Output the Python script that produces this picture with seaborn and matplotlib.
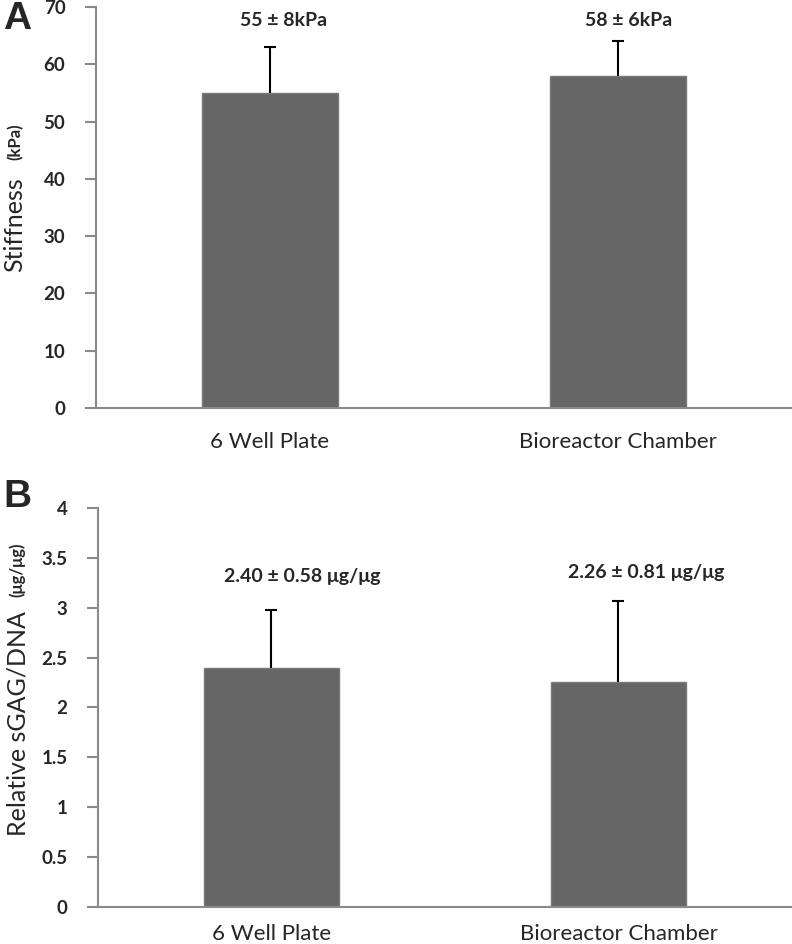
import matplotlib
matplotlib.use("Agg")
import matplotlib.pyplot as plt
import matplotlib.ticker as mticker
import seaborn as sns
import pandas as pd

# data
groups = ["6 Well Plate", "Bioreactor Chamber"]
stiffness = [55, 58]
stiffness_err = [8, 6]
stiffness_labels = ["55 ± 8kPa", "58 ± 6kPa"]
sgag = [2.40, 2.26]
sgag_err = [0.58, 0.81]
sgag_labels = ["2.40 ± 0.58 μg/μg", "2.26 ± 0.81 μg/μg"]

sns.set_theme(style="white")
plt.rcParams['font.family'] = ['Lato', 'DejaVu Sans']

bar_color = "#666666"
spine_color = "#8a8a8a"

fig = plt.figure(figsize=(7.92, 9.44), dpi=100)
ax_a = fig.add_axes([0.1212, 0.5678, 0.8788, 0.4248])
ax_b = fig.add_axes([0.1237, 0.0392, 0.8763, 0.4227])


def draw_panel(ax, values, errs, labels, ymax, ystep, label_pos, xpad):
    df = pd.DataFrame({"group": groups, "value": values})
    sns.barplot(data=df, x="group", y="value", ax=ax, color=bar_color,
                width=0.39, edgecolor="#7a7a7a", linewidth=1, errorbar=None,
                saturation=1)
    # upward-only error bars, no cap at the bottom
    eb = ax.errorbar(range(len(values)), values, yerr=[[0] * len(errs), errs],
                     fmt="none", ecolor="black", elinewidth=1.5, capsize=4,
                     capthick=1.5)
    eb[1][0].set_visible(False)
    for i, txt in enumerate(labels):
        ax.text(label_pos[i][0], label_pos[i][1], txt, ha="center",
                va="center", fontsize=14, fontweight="bold")
    ax.set_xlim(-0.5, 1.5)
    ax.set_ylim(0, ymax)
    ax.yaxis.set_major_locator(mticker.MultipleLocator(ystep))
    ax.yaxis.set_major_formatter(mticker.FormatStrFormatter("%g"))
    ax.set_xlabel("")
    ax.set_ylabel("")
    for side in ["top", "right"]:
        ax.spines[side].set_visible(False)
    for side in ["left", "bottom"]:
        ax.spines[side].set_color(spine_color)
        ax.spines[side].set_linewidth(1.5)
    ax.tick_params(axis="y", left=True, length=8, width=1.5, color=spine_color,
                   labelsize=13.5, pad=14)
    ax.tick_params(axis="x", bottom=False, labelsize=16, pad=xpad)
    for lab in ax.get_yticklabels():
        lab.set_fontweight("bold")


draw_panel(ax_a, stiffness, stiffness_err, stiffness_labels, 70, 10,
           [(0.04, 67.7), (1.03, 67.7)], 11)
draw_panel(ax_b, sgag, sgag_err, sgag_labels, 4, 0.5,
           [(0.09, 3.31), (1.08, 3.35)], 6)

# y-axis titles with smaller unit text
fig.text(0.018, 0.762, "Stiffness", rotation=90, ha="center", va="center",
         fontsize=18)
fig.text(0.020, 0.850, "(kPa)", rotation=90, ha="center", va="center",
         fontsize=12, fontweight="bold")
fig.text(0.023, 0.234, "Relative sGAG/DNA", rotation=90, ha="center",
         va="center", fontsize=18)
fig.text(0.021, 0.396, "(μg/μg)", rotation=90, ha="center", va="center",
         fontsize=12, fontweight="bold")

# panel letters
fig.text(0.004, 0.980, "A", fontsize=28, fontweight="bold", ha="left",
         va="center", family="Liberation Sans")
fig.text(0.004, 0.474, "B", fontsize=28, fontweight="bold", ha="left",
         va="center", family="Liberation Sans")

fig.savefig("out.png", dpi=100)
